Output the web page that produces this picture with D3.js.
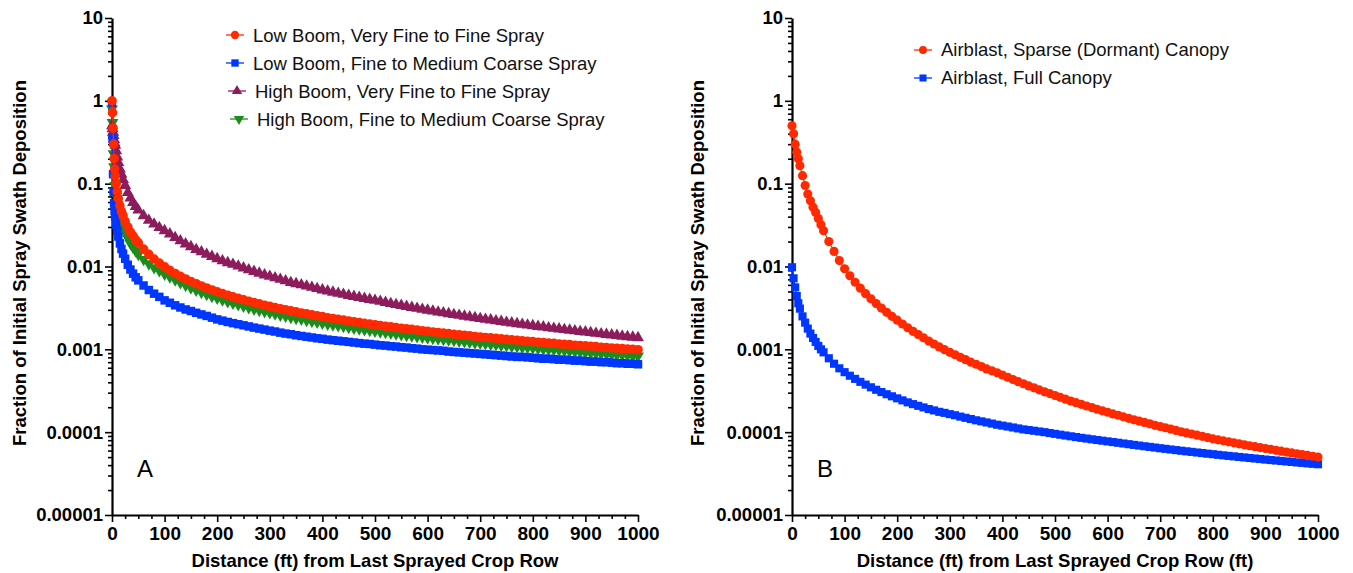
<!DOCTYPE html>
<html>
<head>
<meta charset="utf-8">
<script src="https://cdn.jsdelivr.net/npm/d3@7"></script>
<style>
  body { margin: 0; background: #fff; }
  svg { display: block; font-family: "Liberation Sans", Arial, Helvetica, sans-serif; }
</style>
</head>
<body>
<svg id="chart" width="1353" height="573"></svg>
<script>
// ---- axis ticks ----
const yTicks = [1e-5, 1e-4, 1e-3, 1e-2, 1e-1, 1, 10];
const yTickLabels = ["0.00001", "0.0001", "0.001", "0.01", "0.1", "1", "10"];
const xTicks = [0, 100, 200, 300, 400, 500, 600, 700, 800, 900, 1000];
const xTickLabels = ["0", "100", "200", "300", "400", "500", "600", "700", "800", "900", "1000"];

// ---- distances (ft) ----
const distTail = [60, 70, 80, 90, 100,
  110, 120, 130, 140, 150, 160, 170, 180, 190, 200,
  210, 220, 230, 240, 250, 260, 270, 280, 290, 300,
  310, 320, 330, 340, 350, 360, 370, 380, 390, 400,
  410, 420, 430, 440, 450, 460, 470, 480, 490, 500,
  510, 520, 530, 540, 550, 560, 570, 580, 590, 600,
  610, 620, 630, 640, 650, 660, 670, 680, 690, 700,
  710, 720, 730, 740, 750, 760, 770, 780, 790, 800,
  810, 820, 830, 840, 850, 860, 870, 880, 890, 900,
  910, 920, 930, 940, 950, 960, 970, 980, 990, 1000];
const distA = [0, 1, 2, 3, 4, 5, 6, 8, 10, 12, 15, 18, 21, 25, 30, 35, 40, 45, 50].concat(distTail);
const distB = [0, 3, 6, 9, 12, 15, 20, 25, 30, 35, 40, 45, 50, 55].concat(distTail);

// ---- panel A ----
const lowBoomFine = [1.0, 0.72, 0.47, 0.3, 0.2, 0.15, 0.125, 0.1, 0.08, 0.066, 0.054, 0.046, 0.041, 0.035, 0.03, 0.026, 0.0235, 0.021, 0.0193,
  .0162, .014, .0123, .011, .0099,
  .009, .00825, .00762, .00707, .0066, .00619, .00582, .0055, .00521, .00495,
  .00471, .0045, .0043, .00413, .00396, .00381, .00367, .00354, .00341, .0033,
  .00319, .00309, .003, .00291, .00283, .00275, .00268, .00261, .00254, .00248,
  .00241, .00236, .0023, .00225, .0022, .00215, .00211, .00206, .00202, .00198,
  .00194, .0019, .00187, .00183, .0018, .00177, .00174, .00171, .00168, .00165,
  .00162, .0016, .00157, .00155, .00152, .0015, .00148, .00146, .00143, .00141,
  .00139, .00138, .00136, .00134, .00132, .0013, .00129, .00127, .00125, .00124,
  .00122, .00121, .00119, .00118, .00116, .00115, .00114, .00112, .00111, .0011,
  .00109, .00108, .00106, .00105, .00104, .00103, .00102, .00101, .001, .00099];

const lowBoomCoarse = [0.95, 0.35, 0.13, 0.08, 0.058, 0.047, 0.04, 0.032, 0.027, 0.023, 0.019, 0.0163, 0.0143, 0.0124, 0.0105, 0.0092, 0.0082, 0.0074, 0.0068,
  .0059, .0052, .0047, .0043, .0039,
  .00365, .0034, .0032, .00303, .0029, .00276, .00264, .00253, .00241, .0023,
  .00222, .00214, .00207, .00201, .00195, .00189, .00183, .00178, .00173, .00168,
  .00164, .00159, .00155, .00152, .00148, .00145, .00142, .00139, .00136, .00134,
  .00131, .00129, .00127, .00125, .00123, .00121, .00119, .00117, .00116, .00114,
  .00112, .00111, .00109, .00108, .00106, .00105, .00103, .00102, .001, .00099,
  .00098, .00097, .00096, .00094, .00093, .00092, .00091, .0009, .00089, .00088,
  .00087, .00086, .00085, .00084, .00083, .00082, .00081, .00081, .0008, .00079,
  .00078, .00077, .00077, .00076, .00075, .00075, .00074, .00073, .00073, .00072,
  .00071, .00071, .0007, .0007, .00069, .00068, .00068, .00067, .00067, .00066];

const highBoomFine = [0.5, 0.46, 0.42, 0.38, 0.34, 0.31, 0.29, 0.25, 0.21, 0.18, 0.15, 0.13, 0.112, 0.095, 0.078, 0.067, 0.059, 0.053, 0.048,
  .041, .036, .0325, .0295, .027,
  .0247, .0223, .0204, .0187, .0173, .016, .015, .014, .0132, .0124,
  .0117, .0111, .0106, .0101, .0096, .0091, .0087, .0083, .0079, .0076,
  .0073, .007, .0067, .0064, .0062, .006, .0058, .0056, .0054, .0052,
  .00505, .00489, .00474, .00461, .00447, .00435, .00423, .00411, .004, .0039,
  .00379, .00368, .00357, .00347, .00338, .00329, .0032, .00312, .00304, .00297,
  .00289, .00282, .00276, .00269, .00263, .00257, .00251, .00246, .00241, .00235,
  .0023, .00226, .00221, .00217, .00212, .00208, .00204, .002, .00196, .00193,
  .00189, .00186, .00182, .00179, .00176, .00173, .0017, .00167, .00164, .00162,
  .00159, .00156, .00154, .00151, .00149, .00147, .00144, .00142, .0014, .00138];

const highBoomCoarse = [0.8, 0.55, 0.35, 0.23, 0.16, 0.12, 0.095, 0.07, 0.056, 0.048, 0.04, 0.034, 0.03, 0.026, 0.022, 0.019, 0.017, 0.0155, 0.014,
  .0122, .0108, .0097, .0089, .0081,
  .0075, .00692, .00638, .00593, .00553, .00519, .00488, .00461, .00437, .00415,
  .00395, .00377, .00361, .00346, .00332, .00319, .00307, .00296, .00286, .00277,
  .00268, .00259, .00252, .00244, .00237, .00231, .00224, .00218, .00213, .00208,
  .00202, .00198, .00193, .00189, .00184, .0018, .00177, .00173, .00169, .00166,
  .00163, .0016, .00157, .00154, .00151, .00148, .00146, .00143, .00141, .00138,
  .00136, .00134, .00132, .0013, .00128, .00126, .00124, .00122, .0012, .00119,
  .00117, .00115, .00114, .00112, .00111, .00109, .00108, .00106, .00105, .00104,
  .00102, .00101, .001, .00099, .00098, .00097, .00095, .00094, .00093, .00092,
  .00091, .0009, .00089, .00088, .00087, .00086, .00086, .00085, .00084, .00083];

// ---- panel B ----
const airSparse = [0.5, 0.4, 0.3, 0.24, 0.2, 0.165, 0.125, 0.095, 0.075, 0.062, 0.052, 0.045, 0.038, 0.032,
  .027, .020, .0152, .0118, .0094,
  .00773, .00646, .00547, .0047, .00408, .00357, .00315, .0028, .0025, .00225,
  .00202, .00182, .00165, .00151, .00138, .00126, .00116, .00107, .00099, .00092,
  .00086, .0008, .00075, .0007, .00066, .00062, .00058, .00055, .00052, .00049,
  .00046, .000432, .000407, .000384, .000362, .000343, .000324, .000307, .000292, .000277,
  .000263, .00025, .000238, .000227, .000217, .000207, .000198, .000189, .000181, .000174,
  .000166, .00016, .000153, .000147, .000141, .000136, .000131, .000126, .000121, .000117,
  .000113, .000109, .000105, .000101, .000098, .000095, .000092, .000089, .000086, .000083,
  .0000807, .0000785, .0000764, .0000743, .0000723, .0000704, .0000686, .0000668, .0000652, .0000635,
  .000062, .0000604, .000059, .0000575, .0000562, .0000549, .0000536, .0000524, .0000512, .00005];

const airFull = [0.0098, 0.0072, 0.0056, 0.0044, 0.0036, 0.0031, 0.0025, 0.0021, 0.00178, 0.00155, 0.00137, 0.00123, 0.0011, 0.001,
  .00092, .00078, .00067, .00059, .00053,
  .00048, .00044, .000405, .000375, .000348, .000325, .000305, .000287, .000271, .000256,
  .000242, .000229, .000218, .000208, .000199, .00019, .000183, .000176, .000171, .000165,
  .00016, .000154, .000149, .000144, .000139, .000135, .000131, .000127, .000123, .00012,
  .000117, .000114, .000111, .000108, .000106, .000104, .000102, .0001, .0000976, .0000954,
  .0000932, .0000911, .0000891, .0000873, .0000854, .0000837, .000082, .0000804, .0000789, .0000774,
  .0000759, .0000745, .000073, .0000716, .0000702, .0000689, .0000676, .0000664, .0000652, .000064,
  .0000629, .0000618, .0000607, .0000597, .0000587, .0000578, .0000568, .0000559, .000055, .0000542,
  .0000533, .0000525, .0000517, .000051, .0000502, .0000495, .0000488, .0000481, .0000474, .0000467,
  .0000461, .0000455, .0000449, .0000443, .0000437, .0000431, .0000426, .000042, .0000415, .000041];

const RED = "#ff2a00", BLUE = "#0037ff", MAROON = "#8c1c5c", GREEN = "#1c8c1c";

const svg = d3.select("#chart");

// minor log ticks, 2..9 in each decade
const yMinor = [];
for (let e = -5; e < 1; e++) for (let k = 2; k <= 9; k++) yMinor.push(k * Math.pow(10, e));
const xMinor = d3.range(0, 1001, 25).filter(d => d % 100 !== 0);

function panel(cfg) {
  const g = svg.append("g");
  const x = d3.scaleLinear().domain([0, 1000]).range([cfg.left, cfg.left + 526]);
  const y = d3.scaleLog().domain([1e-5, 10]).range([515, 18]);

  // axes
  g.append("g").attr("transform", `translate(${cfg.left},0)`)
    .call(d3.axisLeft(y).tickValues(yMinor).tickSize(4).tickFormat(""))
    .call(s => s.select(".domain").remove());
  const ya = g.append("g").attr("transform", `translate(${cfg.left},0)`)
    .call(d3.axisLeft(y).tickValues(yTicks).tickSize(7).tickSizeOuter(0).tickPadding(2)
      .tickFormat((d, i) => yTickLabels[i]));
  g.append("g").attr("transform", "translate(0,515)")
    .call(d3.axisBottom(x).tickValues(xMinor).tickSize(4).tickFormat(""))
    .call(s => s.select(".domain").remove());
  const xa = g.append("g").attr("transform", "translate(0,515)")
    .call(d3.axisBottom(x).tickValues(xTicks).tickSize(7).tickSizeOuter(0).tickPadding(5)
      .tickFormat((d, i) => xTickLabels[i]));

  g.selectAll(".domain").attr("stroke", "#000").attr("stroke-width", 2.2);
  g.selectAll(".tick line").attr("stroke", "#000").attr("stroke-width", 1.6);
  g.selectAll(".tick text").attr("fill", "#000").attr("font-weight", "bold")
    .attr("font-family", "'Liberation Sans', Arial, sans-serif");
  ya.selectAll(".tick text").attr("font-size", 18.5);
  xa.selectAll(".tick text").attr("font-size", 19);

  // axis titles
  g.append("text").attr("x", cfg.left + 263).attr("y", 567).attr("text-anchor", "middle")
    .attr("font-size", 18.5).attr("font-weight", "bold").text(cfg.xTitle);
  g.append("text").attr("transform", `translate(${cfg.yTitleX},263) rotate(-90)`)
    .attr("text-anchor", "middle").attr("font-size", 18.5).attr("font-weight", "bold")
    .text("Fraction of Initial Spray Swath Deposition");

  // panel letter
  g.append("text").attr("x", cfg.left + 25).attr("y", 477).attr("font-size", 24).text(cfg.letter);

  // series (last drawn on top)
  cfg.series.slice().reverse().forEach(s => {
    const n = Math.min(cfg.dist.length, s.values.length);
    const pts = d3.range(n).map(i => [cfg.dist[i], s.values[i]]);
    g.append("path").datum(pts)
      .attr("d", d3.line().x(d => x(d[0])).y(d => y(d[1])))
      .attr("fill", "none").attr("stroke", s.color).attr("stroke-width", 1.2);
    g.append("g").selectAll("path").data(pts).join("path")
      .attr("transform", d => `translate(${x(d[0])},${y(d[1])})${s.flip ? " rotate(180)" : ""}`)
      .attr("d", d3.symbol(s.type, s.size)())
      .attr("fill", s.color);
  });

  // legend
  cfg.series.forEach((s, i) => {
    const lg = cfg.legend[i];
    const row = g.append("g");
    row.append("line").attr("x1", lg.mx - 9).attr("x2", lg.mx + 9).attr("y1", lg.my).attr("y2", lg.my)
      .attr("stroke", s.color).attr("stroke-width", 1.3);
    row.append("path").attr("transform", `translate(${lg.mx},${lg.my})${s.flip ? " rotate(180)" : ""}`)
      .attr("d", d3.symbol(s.type, s.size * 0.75)()).attr("fill", s.color);
    row.append("text").attr("x", lg.tx).attr("y", lg.ty).attr("font-size", 18.5).attr("fill", "#111")
      .text(s.name);
  });
}

panel({
  left: 112, letter: "A", yTitleX: 26,
  xTitle: "Distance (ft) from Last Sprayed Crop Row",
  dist: distA,
  series: [
    { name: "Low Boom, Very Fine to Fine Spray", values: lowBoomFine, color: RED, type: d3.symbolCircle, size: 72 },
    { name: "Low Boom, Fine to Medium Coarse Spray", values: lowBoomCoarse, color: BLUE, type: d3.symbolSquare, size: 72 },
    { name: "High Boom, Very Fine to Fine Spray", values: highBoomFine, color: MAROON, type: d3.symbolTriangle, size: 62 },
    { name: "High Boom, Fine to Medium Coarse Spray", values: highBoomCoarse, color: GREEN, type: d3.symbolTriangle, size: 62, flip: true }
  ],
  legend: [
    { mx: 235, my: 35, tx: 253, ty: 42 },
    { mx: 235, my: 63, tx: 253, ty: 70 },
    { mx: 237, my: 91, tx: 255, ty: 98 },
    { mx: 239, my: 119, tx: 257, ty: 126 }
  ]
});

panel({
  left: 792, letter: "B", yTitleX: 704,
  xTitle: "Distance (ft) from Last Sprayed Crop Row (ft)",
  dist: distB,
  series: [
    { name: "Airblast, Sparse (Dormant) Canopy", values: airSparse, color: RED, type: d3.symbolCircle, size: 66 },
    { name: "Airblast, Full Canopy", values: airFull, color: BLUE, type: d3.symbolSquare, size: 66 }
  ],
  legend: [
    { mx: 923, my: 50, tx: 941, ty: 56 },
    { mx: 923, my: 78, tx: 941, ty: 84 }
  ]
});
</script>
</body>
</html>
